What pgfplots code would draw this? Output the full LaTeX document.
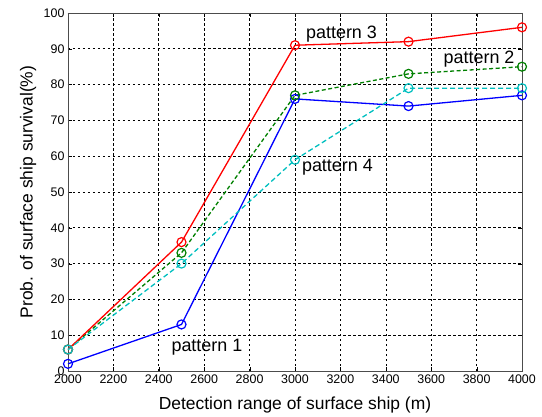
\documentclass[border=0pt]{standalone}
\usepackage{pgfplots}
\pgfplotsset{compat=1.18}
\usepackage{fontspec}
\setmainfont{Liberation Sans}
\definecolor{mgreen}{rgb}{0,0.5,0}
\definecolor{mcyan}{rgb}{0,0.75,0.75}
\begin{document}
\begin{tikzpicture}
\begin{axis}[
  scale only axis,
  width=454bp, height=358bp,
  xmin=2000, xmax=4000, ymin=0, ymax=100,
  xtick={2000,2200,...,4000},
  ytick={0,10,...,100},
  /pgf/number format/assume math mode=true,
  /pgf/number format/1000 sep={},
  tick label style={font=\fontsize{12.5}{14}\selectfont},
  xlabel={Detection range of surface ship (m)},
  ylabel={Prob. of surface ship survival(\%)},
  every axis x label/.style={at={(rel axis cs:0.5,0)}, yshift=-34bp, anchor=center, font=\fontsize{17.5}{20}\selectfont},
  every axis y label/.style={at={(rel axis cs:0,0.5)}, xshift=-40bp, rotate=90, anchor=center, font=\fontsize{17.5}{20}\selectfont},
  grid=major,
  major grid style={black, dash pattern=on 2.5bp off 2.5bp, line width=0.6bp},
  axis line style={black!70, line width=0.8bp},
  tick align=inside,
  major tick length=4bp,
  tick style={black},
  every axis plot/.append style={line width=1.3bp, mark=o, mark size=4.5bp, mark options={solid, line width=1.2bp}},
]
\addplot[blue] coordinates {(2000,2) (2500,13) (3000,76) (3500,74) (4000,77)};
\addplot[mgreen, dash pattern=on 4bp off 2.5bp] coordinates {(2000,6) (2500,33) (3000,77) (3500,83) (4000,85)};
\addplot[red] coordinates {(2000,6) (2500,36) (3000,91) (3500,92) (4000,96)};
\addplot[mcyan, dash pattern=on 5bp off 3bp] coordinates {(2000,6) (2500,30) (3000,59) (3500,79) (4000,79)};
\node[font=\fontsize{18}{20}\selectfont] at (axis cs:3205,94) {pattern 3};
\node[font=\fontsize{18}{20}\selectfont] at (axis cs:3811,87) {pattern 2};
\node[font=\fontsize{18}{20}\selectfont] at (axis cs:3187,57) {pattern 4};
\node[font=\fontsize{18}{20}\selectfont] at (axis cs:2612,6.6) {pattern 1};
\coordinate (bl) at (rel axis cs:0,0);
\coordinate (tr) at (rel axis cs:1,1);
\end{axis}
\pgfresetboundingbox
\path[use as bounding box] ([xshift=-68bp,yshift=-46bp]bl) rectangle ([xshift=20bp,yshift=13bp]tr);
\end{tikzpicture}
\end{document}
